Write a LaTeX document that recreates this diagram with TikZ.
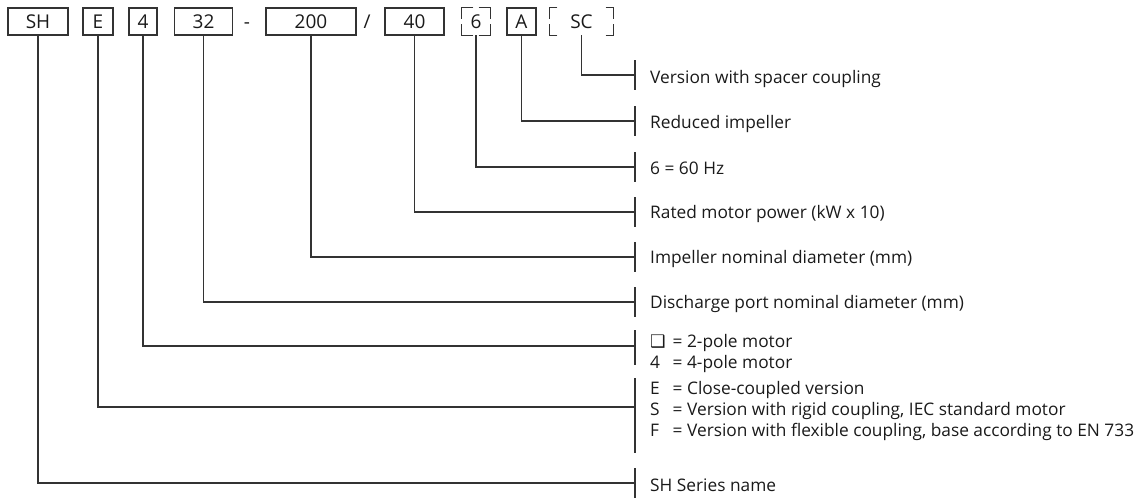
\documentclass[tikz,border=0pt]{standalone}
\usepackage{fontspec}
\setmainfont{Open Sans}
\newfontfamily\symfont{DejaVu Sans}
\definecolor{ln}{HTML}{333333}
\definecolor{tx}{HTML}{1A1A1A}
\newcommand{\eqs}{\hspace{4.5pt}=\hspace{4.5pt}}
\begin{document}
\begin{tikzpicture}[x=1pt,y=-1pt,
  wire/.style={draw=ln, line width=1.2pt},
  codebox/.style={draw=ln, line width=1.2pt, minimum height=27pt, inner sep=0pt, text=tx, font=\fontsize{19}{19}\selectfont},
  openbox/.style={minimum height=27pt, inner sep=0pt, text=tx, font=\fontsize{19}{19}\selectfont},
  sep/.style={anchor=base, inner sep=0pt, text=tx, font=\fontsize{19}{19}\selectfont},
  lbl/.style={anchor=base west, inner sep=0pt, text=tx, font=\fontsize{17.3}{21}\selectfont}
]
\useasboundingbox (0,0) rectangle (1144,498);
% code boxes
\node[codebox, minimum width=60pt] (sh) at (38,21.5) {SH};
\node[codebox, minimum width=30pt] (e) at (98,21.5) {E};
\node[codebox, minimum width=28pt] (four) at (143,21.5) {4};
\node[codebox, minimum width=58pt] (tt) at (203.5,21.5) {32};
\node[sep] (dash) at (247,28.5) {-};
\node[codebox, minimum width=90pt] (twoh) at (311,21.5) {200};
\node[sep] (slash) at (367,28.5) {/};
\node[codebox, minimum width=59pt] (forty) at (414.5,21.5) {40};
\node[openbox, minimum width=28pt] (six) at (476,21.5) {6};
\node[codebox, minimum width=29pt] (a) at (521.5,21.5) {A};
\node[openbox, minimum width=63pt] (sc) at (581.5,21.5) {SC};
% corner brackets of optional boxes
\foreach \n/\h/\v in {six/11.5/11.5, sc/7.5/11.5}{
  \draw[wire] ([xshift=\h pt]\n.north west) -| ([yshift=-\v pt]\n.north west);
  \draw[wire] ([xshift=-\h pt]\n.north east) -| ([yshift=-\v pt]\n.north east);
  \draw[wire] ([xshift=\h pt]\n.south west) -| ([yshift=\v pt]\n.south west);
  \draw[wire] ([xshift=-\h pt]\n.south east) -| ([yshift=\v pt]\n.south east);
}
% joints on the tick column
\coordinate (jsc) at (635,75);
\coordinate (ja) at (635,121);
\coordinate (jsix) at (635,167);
\coordinate (jforty) at (635,212);
\coordinate (jtwoh) at (635,257);
\coordinate (jtt) at (635,302);
\coordinate (jfour) at (635,346);
\coordinate (je) at (635,407);
\coordinate (jsh) at (635,483);
% connectors
\draw[wire] (sc.south) |- (jsc);
\draw[wire] (a.south) |- (ja);
\draw[wire] (six.south) |- (jsix);
\draw[wire] (forty.south) |- (jforty);
\draw[wire] (twoh.south) |- (jtwoh);
\draw[wire] (tt.south) |- (jtt);
\draw[wire] (four.south) |- (jfour);
\draw[wire] (e.south) |- (je);
\draw[wire] (sh.south) |- (jsh);
% ticks
\foreach \j in {jsc,ja,jsix,jforty,jtwoh,jtt}{
  \draw[wire] ([yshift=15pt]\j) -- ([yshift=-15pt]\j);
}
\draw[wire] ([yshift=16pt]jfour) -- ([yshift=-19pt]jfour);
\draw[wire] ([yshift=29pt]je) -- ([yshift=-46pt]je);
\draw[wire] ([yshift=15pt]jsh) -- ([yshift=-16pt]jsh);
% labels
\node[lbl] (tsc) at (650,83) {Version with spacer coupling};
\node[lbl] (ta) at (650,128) {Reduced impeller};
\node[lbl] (tsix) at (650,174) {6\eqs 60 Hz};
\node[lbl] (tforty) at (650,218) {Rated motor power (kW x 10)};
\node[lbl] (ttwoh) at (650,263) {Impeller nominal diameter (mm)};
\node[lbl] (ttt) at (650,308) {Discharge port nominal diameter (mm)};
\node[lbl] (tfoura) at (650,347) {\makebox[18pt][l]{\symfont ❑}\eqs 2-pole motor};
\node[lbl] (tfourb) at (650,368) {\makebox[18pt][l]{4}\eqs 4-pole motor};
\node[lbl] (tea) at (650,394) {\makebox[18pt][l]{E}\eqs Close-coupled version};
\node[lbl] (teb) at (650,415) {\makebox[18pt][l]{S}\eqs Version with rigid coupling, IEC standard motor};
\node[lbl] (tec) at (650,436) {\makebox[18pt][l]{F}\eqs Version with flexible coupling, base according to EN 733};
\node[lbl] (tsh) at (650,491) {SH Series name};
\end{tikzpicture}
\end{document}
